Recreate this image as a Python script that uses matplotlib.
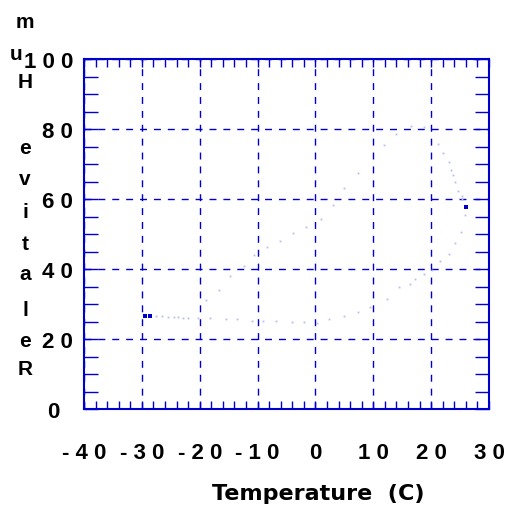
import numpy as np
import matplotlib
import matplotlib.pyplot as plt
from matplotlib.ticker import MultipleLocator

matplotlib.use("Agg")

# ---------------------------------------------------------------------------
# Data (temperature in C, relative humidity in %)
# ---------------------------------------------------------------------------
lower_temp = [-27.6, -26.6, -25.5, -24.4, -23.7, -22.9, -22.0, -20.3, -18.3,
              -15.5, -13.5, -11.0, -9.0, -6.8, -4.1, -2.0, 0.2, 2.4, 5.0,
              7.3, 9.5, 12.3, 14.5, 16.4, 17.2, 18.7, 20.2, 21.5, 23.1,
              24.2, 25.2, 25.8]
lower_rh = [26.6, 26.5, 26.3, 26.2, 26.2, 26.0, 25.9, 26.0, 25.9,
            25.6, 25.6, 25.1, 25.1, 25.1, 24.9, 24.9, 24.6, 25.6, 26.7,
            27.7, 29.1, 31.3, 34.8, 35.8, 37.2, 38.5, 39.8, 42.2, 44.4,
            47.3, 50.6, 55.3]

upper_temp = [25.4, 25.3, 24.7, 24.2, 23.8, 23.5, 23.1, 22.1, 21.1, 18.8,
              16.5, 14.0, 11.8, 7.4, 5.0, 3.0, 0.9, -1.6, -3.8, -6.2,
              -8.4, -10.6, -12.3, -14.8, -16.7, -18.9]
upper_rh = [60.0, 61.0, 62.4, 65.0, 66.9, 68.4, 70.5, 73.1, 75.6, 80.5,
            80.8, 78.5, 75.3, 67.4, 63.1, 58.2, 54.3, 52.0, 50.2, 47.9,
            46.2, 44.0, 41.0, 37.9, 33.9, 31.1]

dark_temp = [-29.5, -28.6, 26.1]
dark_rh = [26.7, 26.7, 57.8]

x_ticks = [-40, -30, -20, -10, 0, 10, 20, 30]
y_ticks = [0, 20, 40, 60, 80, 100]

BLUE = "#0000cc"
FONT = "Liberation Sans"

fig = plt.figure(figsize=(5.15, 5.06), dpi=100)
ax = fig.add_axes([84 / 515, 1 - 410 / 506, 405 / 515, 350 / 506])

ax.plot(lower_temp, lower_rh, "s", ms=1.3, mew=0, color="#babaf3")
ax.plot(upper_temp, upper_rh, "s", ms=1.3, mew=0, color="#babaf3")
ax.plot(dark_temp, dark_rh, "s", ms=2.2, mew=0, color=BLUE)

ax.set_xlim(-40, 30)
ax.set_ylim(0, 100)

ax.xaxis.set_major_locator(MultipleLocator(10))
ax.xaxis.set_minor_locator(MultipleLocator(2))
ax.yaxis.set_major_locator(MultipleLocator(20))
ax.yaxis.set_minor_locator(MultipleLocator(5))

ax.grid(which="major", color=BLUE, linestyle=(0, (5, 5)), linewidth=1.0)

for sp in ax.spines.values():
    sp.set_color(BLUE)
    sp.set_linewidth(1.5)

ax.tick_params(axis="x", which="both", direction="in", top=True, bottom=True,
               length=6, width=1, color=BLUE, pad=24)
ax.tick_params(axis="y", which="both", direction="in", left=True, right=True,
               length=10, width=1, color=BLUE, pad=8)

ax.set_xticks(x_ticks)
ax.set_xticklabels([" ".join(str(t)) for t in x_ticks],
                   fontsize=16, fontweight="bold", family=FONT)
ax.set_yticks(y_ticks)
ylabels = [" ".join(str(t)) for t in y_ticks]
ylabels[0] = "0  "
ax.set_yticklabels(ylabels, fontsize=16, fontweight="bold", family=FONT)

fig.text(318 / 515, 1 - 494 / 506, "Temperature  (C)", ha="center",
         va="center", fontsize=16, fontweight="bold", family="DejaVu Sans")

# stacked y-axis label, letters upright, bottom to top
label_chars = ["R", "e", "l", "a", "t", "i", "v", "e", "H", "u", "m"]
label_ys = [370, 342, 310, 275, 245, 213, 180, 148, 83, 54, 22]
label_xs = [25, 25, 25, 25, 25, 25, 25, 25, 25, 16, 25]
for ch, xx, yy in zip(label_chars, label_xs, label_ys):
    fig.text(xx / 515, 1 - yy / 506, ch, ha="center", va="center",
             fontsize=15, fontweight="bold", family=FONT)

fig.savefig("out.png", dpi=100)
